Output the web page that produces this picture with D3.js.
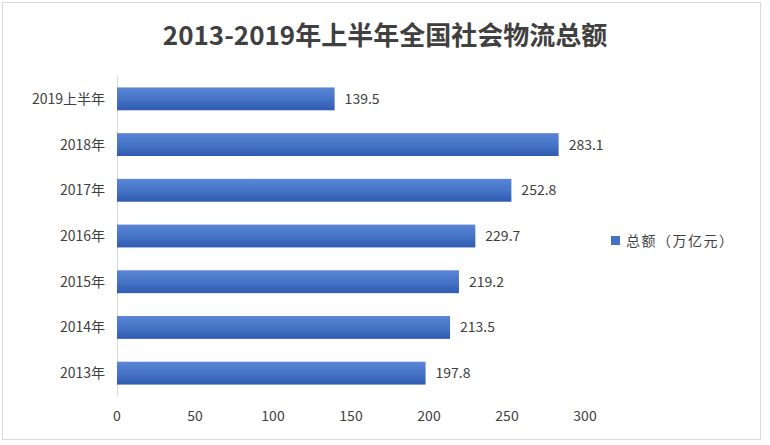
<!DOCTYPE html><html><head><meta charset="utf-8"><script src="https://cdn.jsdelivr.net/npm/d3@7"></script>
<style>body{margin:0;background:#fff}text{font-family:"Noto Sans CJK SC","Liberation Sans",sans-serif}</style></head><body><svg id="c" width="770" height="445"></svg>
<script>
const categories=["2019上半年","2018年","2017年","2016年","2015年","2014年","2013年"];
const values=[139.5,283.1,252.8,229.7,219.2,213.5,197.8];
const xTicks=[0,50,100,150,200,250,300];
const seriesName="总额（万亿元）";
const title="2013-2019年上半年全国社会物流总额";
const svg=d3.select("#c");
svg.append("rect").attr("x",2.5).attr("y",2.5).attr("width",758).attr("height",437).attr("fill","#fff").attr("stroke","#d9d9d9");
const defs=svg.append("defs");
const g=defs.append("linearGradient").attr("id","gb").attr("x1",0).attr("y1",0).attr("x2",0).attr("y2",1);
g.append("stop").attr("offset","0%").attr("stop-color","#5b86d6");
g.append("stop").attr("offset","55%").attr("stop-color","#4472c4");
g.append("stop").attr("offset","100%").attr("stop-color","#2f5bb0");
const x=d3.scaleLinear().domain([0,300]).range([117,585]);
const y=d3.scaleBand().domain(categories).range([76,396]).paddingInner(0.5).paddingOuter(0.25);
svg.append("text").attr("x",385).attr("y",45).attr("text-anchor","middle").attr("font-size",26).attr("font-weight","bold").attr("fill","#404040").text(title);
svg.append("line").attr("x1",117.5).attr("x2",117.5).attr("y1",76).attr("y2",396).attr("stroke","#d9d9d9");
svg.selectAll(".b").data(values).join("rect").attr("x",x(0)).attr("y",(d,i)=>y(categories[i])).attr("width",d=>x(d)-x(0)).attr("height",y.bandwidth()).attr("fill","url(#gb)");
svg.selectAll(".v").data(values).join("text").attr("x",d=>x(d)+10).attr("y",(d,i)=>y(categories[i])+y.bandwidth()/2+5).attr("font-size",14).attr("fill","#404040").text(d=>d.toFixed(1));
svg.selectAll(".c").data(categories).join("text").attr("x",105).attr("y",d=>y(d)+y.bandwidth()/2+5).attr("text-anchor","end").attr("font-size",14).attr("fill","#404040").text(d=>d);
svg.selectAll(".t").data(xTicks).join("text").attr("x",d=>x(d)).attr("y",421).attr("text-anchor","middle").attr("font-size",14).attr("fill","#404040").text(d=>d);
svg.append("rect").attr("x",611).attr("y",236).attr("width",9).attr("height",9).attr("fill","#4472c4");
svg.append("text").attr("x",626).attr("y",246).attr("font-size",14).attr("letter-spacing",1.5).attr("fill","#404040").text(seriesName);
</script></body></html>
